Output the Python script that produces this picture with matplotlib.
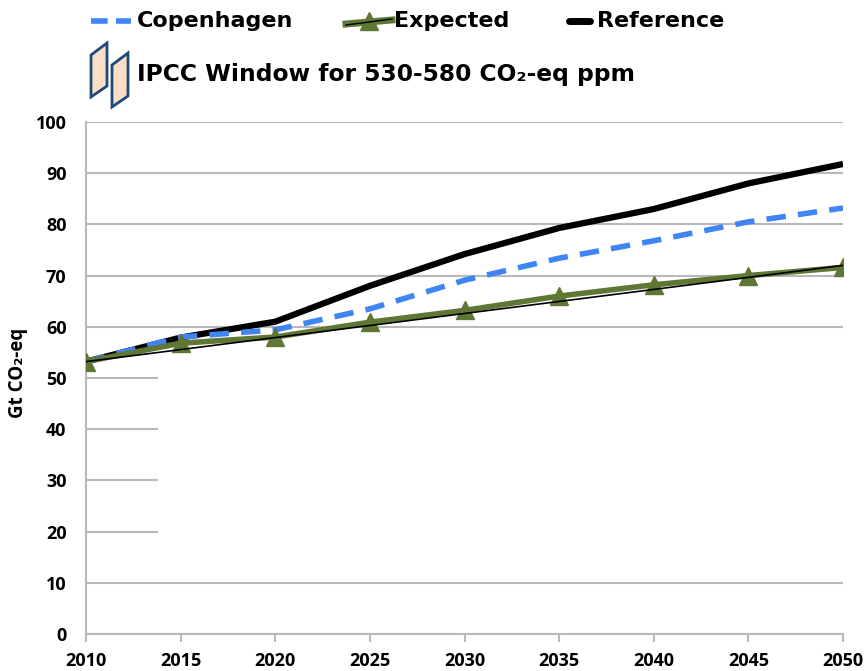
import matplotlib
matplotlib.use('Agg')
import matplotlib.pyplot as plt
from matplotlib.patches import Polygon, Rectangle

# ----------------------------------------------------------------
# Data
# ----------------------------------------------------------------
years = [2010, 2015, 2020, 2025, 2030, 2035, 2040, 2045, 2050]
reference = [53.2, 57.9, 61.0, 68.0, 74.2, 79.3, 83.0, 88.0, 91.8]
copenhagen = [53.2, 58.0, 59.4, 63.5, 69.1, 73.4, 76.8, 80.5, 83.2]
expected = [53.2, 56.8, 58.0, 60.9, 63.2, 66.0, 68.2, 70.0, 71.6]
trend_years = [2010, 2050]
trend = [53.2, 72.0]
window_years = [2013.8, 2050.5]
window_range = [15.0, 55.0]
yticks = [0, 10, 20, 30, 40, 50, 60, 70, 80, 90, 100]

BLUE = '#3f85f4'
GREEN = '#5f7734'
GRID = '#b9b9b9'
NAVY = '#1d4a7a'
BEIGE = '#fadfc6'
TICKFONT = 'Open Sans'

W, H = 865, 671
fig = plt.figure(figsize=(W / 100, H / 100), dpi=100)
ax = fig.add_axes([86 / W, 1 - 634 / H, (843 - 86) / W, (634 - 122) / H])

# ----------------------------------------------------------------
# Lines
# ----------------------------------------------------------------
ax.plot(years, reference, color='black', lw=4.5, solid_capstyle='butt', zorder=3)
ax.plot(years, copenhagen, color=BLUE, lw=4, ls=(0, (3.5, 2.2)), zorder=4)
ax.plot(years, expected, color=GREEN, lw=4, marker='^', ms=13,
        markeredgecolor=GREEN, zorder=5)
ax.plot(trend_years, trend, color='black', lw=1.2, zorder=6)

# IPCC window: white area hiding part of the grid
ax.add_patch(Rectangle((window_years[0], window_range[0]),
                       window_years[1] - window_years[0],
                       window_range[1] - window_range[0],
                       facecolor='white', edgecolor='none', zorder=1))

# ----------------------------------------------------------------
# Axes styling
# ----------------------------------------------------------------
ax.set_xlim(2010, 2050)
ax.set_ylim(0, 100)
ax.set_xticks(years)
ax.set_yticks(yticks)
ax.set_axisbelow(True)
ax.yaxis.grid(True, color=GRID, lw=1.5, zorder=0)
for s in ['top', 'right']:
    ax.spines[s].set_visible(False)
for s in ['left', 'bottom']:
    ax.spines[s].set_color(GRID)
    ax.spines[s].set_linewidth(1.5)
ax.tick_params(axis='y', length=0, pad=14)
ax.tick_params(axis='x', length=6, width=1.5, color=GRID, pad=7)
for lbl in ax.get_xticklabels() + ax.get_yticklabels():
    lbl.set_fontfamily(TICKFONT)
    lbl.set_fontweight('bold')
    lbl.set_fontsize(13)

fig.text(18 / W, 1 - 373 / H, 'Gt CO\u2082-eq', rotation=90,
         family=[TICKFONT, 'DejaVu Sans'], fontweight='bold', fontsize=13.5,
         ha='center', va='center')

# ----------------------------------------------------------------
# Legend drawn in pixel coordinates
# ----------------------------------------------------------------
lax = fig.add_axes([0, 0, 1, 1], zorder=10)
lax.set_xlim(0, W)
lax.set_ylim(H, 0)
lax.axis('off')
lax.patch.set_alpha(0)

font = dict(family='DejaVu Sans', fontweight='bold', fontsize=16, va='center', ha='left')
ry = 21
lax.plot([91, 131], [ry, ry], color=BLUE, lw=4, ls=(0, (3, 1.5)))
lax.text(137, ry, 'Copenhagen', **font)
lax.plot([346, 392], [ry + 3, ry - 1], color=GREEN, lw=5)
lax.plot([369], [ry], marker='^', ms=13, color=GREEN)
lax.plot([346, 392], [ry + 4, ry - 2], color='black', lw=1)
lax.text(394, ry, 'Expected', **font)
lax.plot([569, 590], [ry, ry], color='black', lw=5, solid_capstyle='round')
lax.text(597, ry, 'Reference', **font)

for dx, dy in [(0, 0), (21, 10)]:
    pts = [(91 + dx, 55 + dy), (107 + dx, 43 + dy), (107 + dx, 86 + dy), (91 + dx, 97 + dy)]
    lax.add_patch(Polygon(pts, closed=True, facecolor=BEIGE, edgecolor=NAVY, lw=2))
ipcc = dict(font, fontsize=16.8)
lax.text(137, 75, 'IPCC Window for 530-580 CO\u2082-eq ppm', **ipcc)

fig.savefig('out.png', dpi=100, facecolor='white')
